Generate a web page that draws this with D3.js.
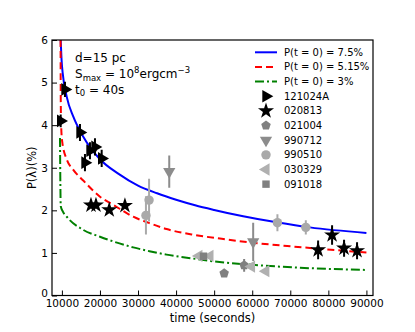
<!DOCTYPE html>
<html>
<head>
<meta charset="utf-8">
<title>Polarization decay</title>
<script src="https://d3js.org/d3.v7.min.js"></script>
<style>
  body { margin: 0; background: #fff; }
  text { font-family: 'DejaVu Sans', sans-serif; fill: #000; }
</style>
</head>
<body>
<div id="chart"></div>
<script>
// model curves: [time, P]
var curveBlue  = [[9680,6.0],[9900,5.55],[10210,5.22],[11260,4.67],[13000,4.2],[15620,3.73],[20000,3.2],[25000,2.85],[30000,2.58],[35000,2.4],[40000,2.25],[45000,2.12],[50000,2.01],[57620,1.86],[66380,1.72],[75130,1.6],[90000,1.47]];
var curveRed   = [[9650,6.0],[9700,4.6],[9800,4.0],[10100,3.6],[11260,3.2],[13000,2.95],[15620,2.7],[20000,2.32],[23500,2.13],[28740,1.85],[33000,1.7],[37500,1.56],[45000,1.42],[52000,1.33],[60000,1.24],[70740,1.15],[90000,1.01]];
var curveGreen = [[9500,3.7],[9600,2.6],[9700,2.1],[10200,1.98],[11260,1.85],[15620,1.54],[20000,1.38],[28740,1.13],[33000,1.04],[37500,0.96],[45000,0.86],[52000,0.78],[60000,0.72],[70740,0.66],[90000,0.6]];
var curveLabels = ["P(t = 0) = 7.5%", "P(t = 0) = 5.15%", "P(t = 0) = 3%"];

// GRB data: time (s), P (%), error
var t121024A = [9680,10810,14750,16060,17375,18690,20450];
var p121024A = [4.10,4.84,3.83,3.12,3.40,3.49,3.22];
var e121024A = [0.15,0.18,0.2,0.2,0.2,0.2,0.2];

var t020813 = [17640,18950,22440,26560,77310,80980,84130,87540];
var p020813 = [2.12,2.12,2.01,2.11,1.07,1.42,1.11,1.05];
var e020813 = [0,0,0,0,0.22,0.23,0.2,0.2];

var t021004 = [52630,57880];
var p021004 = [0.52,0.71];
var e021004 = [0,0.15];

var t990712 = [38200,60250];
var p990712 = [2.91,1.26];
var e990712 = [0.38,0.45];

var t990510 = [32080,32900,66620,74080];
var p990510 = [1.88,2.24,1.71,1.60];
var e990510 = [0.45,0.5,0.2,0.17];

var t030329 = [46000,48900,59820,63580];
var p030329 = [0.93,0.93,0.68,0.57];
var e030329 = [0,0,0,0];

var t091018 = [47200];
var p091018 = [0.92];
var e091018 = [0];

var xTicks = [10000,20000,30000,40000,50000,60000,70000,80000,90000];
var yTicks = [0,1,2,3,4,5,6];

var W = 415, H = 332;
var margin = {top: 40, right: 42, bottom: 36.5, left: 52};

var svg = d3.select("#chart").append("svg")
  .attr("width", W).attr("height", H);

var x = d3.scaleLinear().domain([7400, 91730]).range([margin.left, W - margin.right]);
var y = d3.scaleLinear().domain([0, 6]).range([H - margin.bottom, margin.top]);

svg.append("clipPath").attr("id", "plotclip")
  .append("rect")
  .attr("x", margin.left).attr("y", margin.top)
  .attr("width", W - margin.left - margin.right)
  .attr("height", H - margin.top - margin.bottom);

var plot = svg.append("g").attr("clip-path", "url(#plotclip)");

// curves
var line = d3.line()
  .x(function(d){ return x(d[0]); })
  .y(function(d){ return y(d[1]); })
  .curve(d3.curveMonotoneX);

var curveStyles = [
  {data: curveBlue,  color: "#0000ff", dash: null},
  {data: curveRed,   color: "#ff0000", dash: "7,4"},
  {data: curveGreen, color: "#008000", dash: "9,3,2,3"}
];
curveStyles.forEach(function(c){
  plot.append("path")
    .attr("d", line(c.data))
    .attr("fill", "none")
    .attr("stroke", c.color)
    .attr("stroke-width", 2)
    .attr("stroke-dasharray", c.dash);
});

// marker shapes
function pentagon(r) {
  var pts = d3.range(5).map(function(i){
    var a = -Math.PI/2 + i*2*Math.PI/5;
    return [r*Math.cos(a), r*Math.sin(a)];
  });
  return "M" + pts.join("L") + "Z";
}
var sym = {
  right: {path: d3.symbol().type(d3.symbolTriangle).size(70)(), rot: 90},
  star:  {path: d3.symbol().type(d3.symbolStar).size(80)(), rot: 0},
  pent:  {path: pentagon(5), rot: 0},
  down:  {path: d3.symbol().type(d3.symbolTriangle).size(65)(), rot: 180},
  circle:{path: d3.symbol().type(d3.symbolCircle).size(70)(), rot: 0},
  left:  {path: d3.symbol().type(d3.symbolTriangle).size(65)(), rot: -90},
  square:{path: d3.symbol().type(d3.symbolSquare).size(55)(), rot: 0}
};

var series = [
  {name: "121024A", t: t121024A, p: p121024A, e: e121024A, shape: "right",  color: "#000000"},
  {name: "020813",  t: t020813,  p: p020813,  e: e020813,  shape: "star",   color: "#000000"},
  {name: "021004",  t: t021004,  p: p021004,  e: e021004,  shape: "pent",   color: "#808080"},
  {name: "990712",  t: t990712,  p: p990712,  e: e990712,  shape: "down",   color: "#8c8c8c"},
  {name: "990510",  t: t990510,  p: p990510,  e: e990510,  shape: "circle", color: "#a9a9a9"},
  {name: "030329",  t: t030329,  p: p030329,  e: e030329,  shape: "left",   color: "#b0b0b0"},
  {name: "091018",  t: t091018,  p: p091018,  e: e091018,  shape: "square", color: "#808080"}
];

series.forEach(function(s){
  var pts = s.t.map(function(t, i){ return {t: t, p: s.p[i], e: s.e[i]}; });
  var g = plot.append("g");
  g.selectAll("line.err").data(pts.filter(function(d){ return d.e > 0; }))
    .enter().append("line")
    .attr("x1", function(d){ return x(d.t); })
    .attr("x2", function(d){ return x(d.t); })
    .attr("y1", function(d){ return y(d.p - d.e); })
    .attr("y2", function(d){ return y(d.p + d.e); })
    .attr("stroke", s.color)
    .attr("stroke-width", 2);
  g.selectAll("path.mk").data(pts)
    .enter().append("path")
    .attr("d", sym[s.shape].path)
    .attr("transform", function(d){
      return "translate(" + x(d.t) + "," + y(d.p) + ") rotate(" + sym[s.shape].rot + ")";
    })
    .attr("fill", s.color);
});

// axes
var xAxis = svg.append("g")
  .attr("transform", "translate(0," + (H - margin.bottom) + ")")
  .call(d3.axisBottom(x).tickValues(xTicks).tickFormat(d3.format("d")).tickSizeInner(-5).tickSizeOuter(0).tickPadding(4));
var yAxis = svg.append("g")
  .attr("transform", "translate(" + margin.left + ",0)")
  .call(d3.axisLeft(y).tickValues(yTicks).tickFormat(d3.format("d")).tickSizeInner(-5).tickSizeOuter(0).tickPadding(4));
[xAxis, yAxis].forEach(function(a){
  a.select(".domain").remove();
  a.selectAll(".tick line").attr("stroke", "#000").attr("stroke-width", 1);
  a.selectAll(".tick text").style("font-family", "'DejaVu Sans', sans-serif").style("font-size", "10.5px").attr("fill", "#000");
});
// the "0" label sits a little higher so it does not run into "10000"
yAxis.selectAll(".tick text").filter(function(d){ return d === 0; }).attr("dy", "0.05em");

// frame
svg.append("rect")
  .attr("x", margin.left).attr("y", margin.top)
  .attr("width", W - margin.left - margin.right)
  .attr("height", H - margin.top - margin.bottom)
  .attr("fill", "none").attr("stroke", "#000").attr("stroke-width", 1.2);

// axis labels
svg.append("text")
  .attr("x", (margin.left + W - margin.right) / 2).attr("y", 322)
  .attr("text-anchor", "middle").style("font-size", "11.5px")
  .text("time (seconds)");
svg.append("text")
  .attr("transform", "translate(36," + ((margin.top + H - margin.bottom) / 2) + ") rotate(-90)")
  .attr("text-anchor", "middle").style("font-size", "11.5px")
  .text("P(λ)(%)");

// annotation
var ann = svg.append("g").style("font-size", "12px");
ann.append("text").attr("x", 75).attr("y", 62).text("d=15 pc");
var s2 = ann.append("text").attr("x", 75).attr("y", 78);
s2.append("tspan").text("S");
s2.append("tspan").attr("dy", 2.5).style("font-size", "8.5px").text("max");
s2.append("tspan").attr("dy", -2.5).text(" = 10");
s2.append("tspan").attr("dy", -5).style("font-size", "8.5px").text("8");
s2.append("tspan").attr("dy", 5).text("ergcm");
s2.append("tspan").attr("dy", -5).style("font-size", "8.5px").text("−3");
var s3 = ann.append("text").attr("x", 75).attr("y", 93.5);
s3.append("tspan").text("t");
s3.append("tspan").attr("dy", 2.5).style("font-size", "8.5px").text("0");
s3.append("tspan").attr("dy", -2.5).text(" = 40s");

// legend
var leg = svg.append("g");
var legY0 = 52.3, legStep = 14.65, legX = 255;
curveStyles.forEach(function(c, i){
  var yy = legY0 + i * legStep;
  leg.append("line")
    .attr("x1", legX).attr("x2", legX + 22).attr("y1", yy).attr("y2", yy)
    .attr("stroke", c.color).attr("stroke-width", 2)
    .attr("stroke-dasharray", c.dash);
  leg.append("text").attr("x", 284).attr("y", yy).attr("dy", "0.35em")
    .style("font-size", "10px").text(curveLabels[i]);
});
series.forEach(function(s, i){
  var yy = legY0 + (i + 3) * legStep;
  leg.append("path").attr("d", sym[s.shape].path)
    .attr("transform", "translate(266," + yy + ") rotate(" + sym[s.shape].rot + ")")
    .attr("fill", s.color);
  leg.append("text").attr("x", 284).attr("y", yy).attr("dy", "0.35em")
    .style("font-size", "10px").text(s.name);
});
</script>
</body>
</html>
